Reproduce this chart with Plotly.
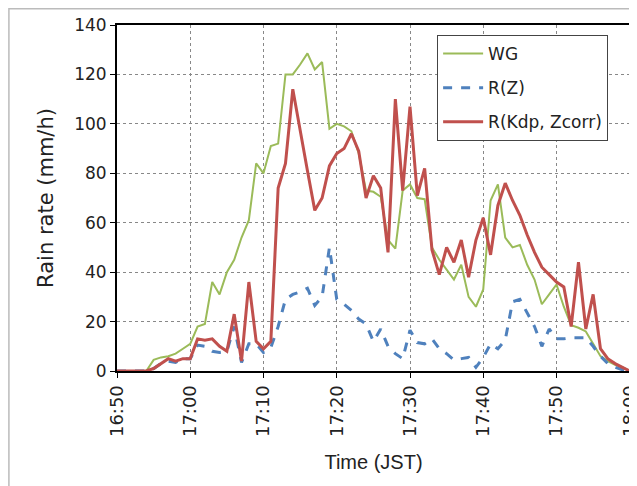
import plotly.graph_objects as go
import pandas as pd

# minutes after 16:50, 1-minute steps
times = pd.date_range("2000-01-01 16:50", "2000-01-01 18:00", freq="min")
x_tick_labels = ["16:50", "17:00", "17:10", "17:20", "17:30", "17:40", "17:50", "18:00"]

wg = [0, 0, 0, 0, 0, 4.5, 5.5, 6, 7, 9,
      11, 18, 19, 36, 31, 40, 45, 54, 61, 84,
      80, 91, 92, 120, 120, 124, 128.5, 122, 125, 98,
      100, 99, 97, 88, 73, 72.5, 70.5, 53, 49.5, 73,
      75.5, 70, 69.5, 50, 45, 41, 37, 43, 30, 26,
      33, 69, 75.5, 54, 50, 51, 43, 37, 27, 31,
      35, 26, 18.5, 17.5, 16, 11, 6, 4, 2.5, 1.5,
      0]

rz = [0, 0, 0, 0, 0, 1, 3, 4, 3.5, 5,
      5, 10.5, 10, 8, 7.5, 8, 18, 3.5, 11, 11,
      7.5, 9.5, 18, 29, 31, 32, 33.5, 26.5, 30, 50,
      29, 27, 24.5, 21, 19, 12, 17, 10, 7, 5,
      16.5, 11.5, 11, 13, 9, 7, 4.5, 5, 5.5, 1.5,
      5.5, 11, 9, 12.5, 28, 29, 23.5, 18, 10, 17,
      13, 13, 13.5, 13.5, 13.5, 10, 6, 3, 1.5, 0.5,
      0]

rkdp = [0, 0, 0, 0, 0, 1, 3, 5, 4, 5,
        5, 13, 12.5, 13, 10, 8, 23, 4, 36, 12,
        9, 12, 74, 84, 114, 97, 81, 65, 70, 83,
        88, 90, 96, 89, 70, 79, 74, 48, 110, 73,
        107, 71, 82, 49, 39, 50, 44, 53, 38, 53,
        62, 47, 67, 76, 69, 63, 55, 48, 42, 39,
        36, 34, 18, 44, 17, 31, 9, 5, 3, 1.5,
        0]

series_names = ["WG", "R(Z)", "R(Kdp, Zcorr)"]
y_ticks = [0, 20, 40, 60, 80, 100, 120, 140]

fig = go.Figure()
fig.add_trace(go.Scatter(x=times, y=wg, mode="lines", name=series_names[0],
                         legendgroup="a",
                         line=dict(color="#9BBB59", width=2)))
fig.add_trace(go.Scatter(x=times, y=rz, mode="lines", name=series_names[1],
                         legendgroup="b",
                         line=dict(color="#4F81BD", width=3, dash="dash")))
fig.add_trace(go.Scatter(x=times, y=rkdp, mode="lines", name=series_names[2],
                         legendgroup="c",
                         line=dict(color="#C0504D", width=3)))

wide = "DejaVu Sans, Verdana, sans-serif"
narrow = "Liberation Sans, Arial, sans-serif"

fig.update_layout(
    width=629, height=478,
    margin=dict(l=109, r=7, t=17, b=115, autoexpand=False),
    paper_bgcolor="white", plot_bgcolor="white",
    font=dict(family=wide, size=16, color="#222"),
    showlegend=True,
    legend=dict(x=0.624, y=0.971, xanchor="left", yanchor="top",
                bgcolor="white", bordercolor="#444", borderwidth=1,
                font=dict(size=17, color="#222", family=wide), tracegroupgap=9,
                itemwidth=40),
    shapes=[dict(type="rect", xref="paper", yref="paper",
                 x0=-0.2107, x1=1.2, y0=-0.5, y1=1.047,
                 line=dict(color="#bbbbbb", width=1.5), layer="below")],
)

fig.update_xaxes(
    type="date",
    range=["2000-01-01 16:50:00", "2000-01-01 18:00:02"],
    tickvals=[times[i] for i in range(0, len(times), 10)],
    ticktext=x_tick_labels,
    tickangle=-90, automargin=False, ticklabeloverflow="allow",
    ticks="outside", ticklen=5, tickcolor="black",
    showgrid=True, gridcolor="#888", griddash="dot", gridwidth=1,
    showline=True, linecolor="black", linewidth=2, mirror=True,
    title=dict(text="Time (JST)", font=dict(size=20, family=narrow), standoff=19),
    tickfont=dict(size=18, color="#222", family=wide),
    zeroline=False,
)
fig.update_yaxes(
    range=[0, 140],
    tickvals=y_ticks, automargin=False,
    ticks="outside", ticklen=5, tickcolor="black",
    showgrid=True, gridcolor="#888", griddash="dot", gridwidth=1,
    showline=True, linecolor="black", linewidth=2, mirror=True,
    title=dict(text="Rain rate (mm/h)", font=dict(size=21, family=wide), standoff=15),
    tickfont=dict(size=17, color="#222", family=wide),
    zeroline=False,
)

fig.write_html("out.html")
